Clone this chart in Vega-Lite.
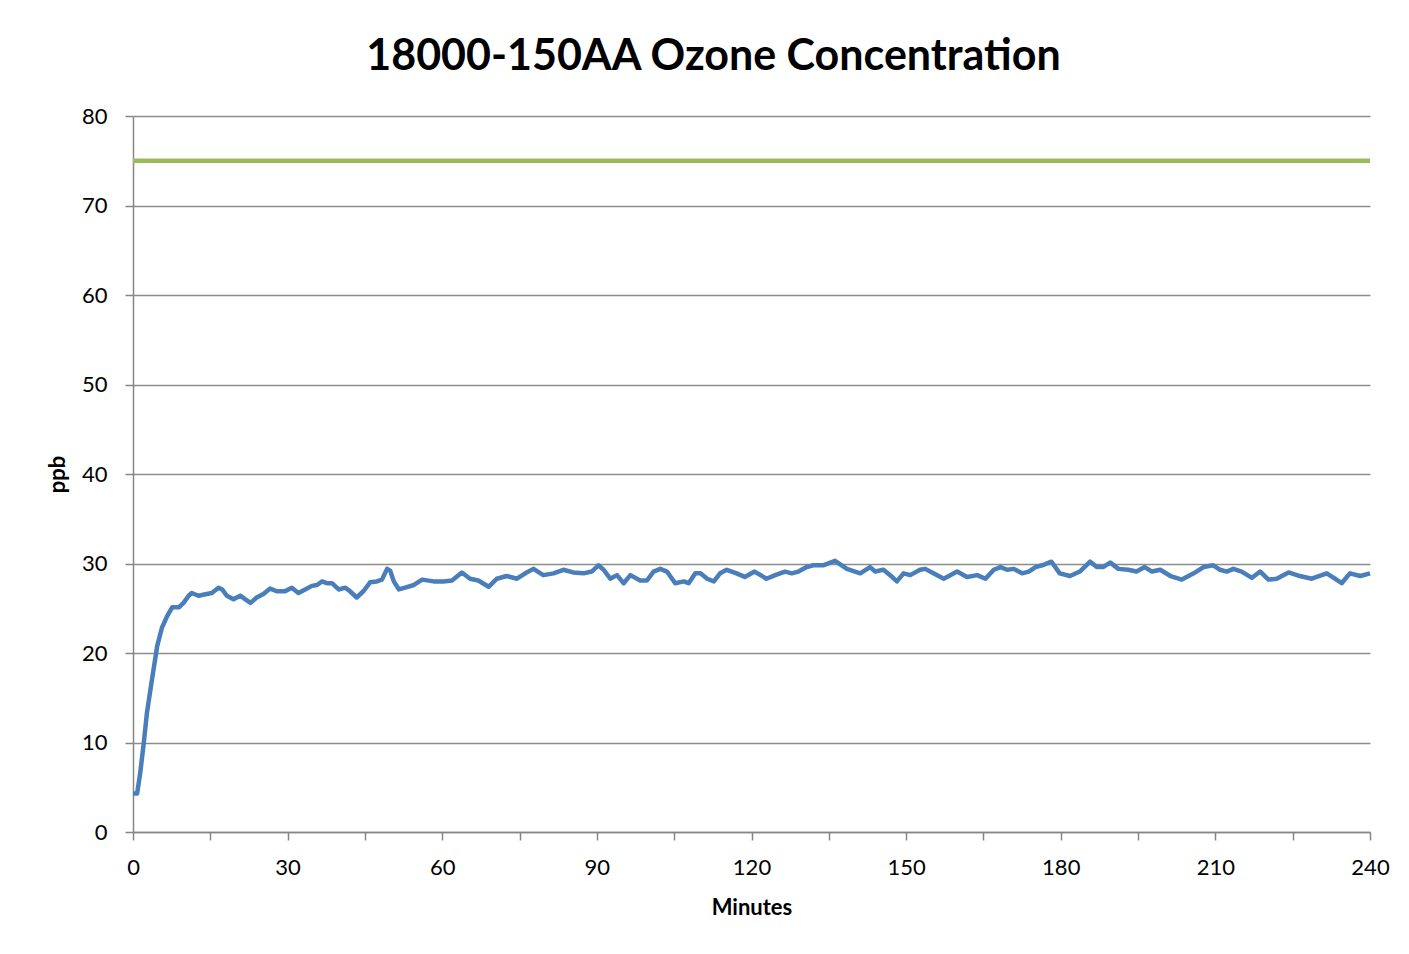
{
  "$schema": "https://vega.github.io/schema/vega-lite/v6.json",
  "width": 1237,
  "height": 716,
  "autosize": "none",
  "padding": {"left": 133, "top": 116, "right": 39, "bottom": 122},
  "background": "white",
  "title": {
    "text": "18000-150AA Ozone Concentration",
    "font": "Lato",
    "fontSize": 43,
    "fontWeight": "bold",
    "color": "#000000",
    "anchor": "middle",
    "dx": -38,
    "offset": 26
  },
  "config": {
    "view": {"stroke": null},
    "axis": {
      "labelFont": "Lato",
      "titleFont": "Lato",
      "labelColor": "#000000",
      "titleColor": "#000000",
      "domainColor": "#868686",
      "tickColor": "#868686",
      "gridColor": "#8c8c8c",
      "domainWidth": 1.5,
      "tickWidth": 1.5,
      "gridWidth": 1.5
    }
  },
  "datasets": {
    "ozone": [
      {"minute": 0, "ppb": 4.3}, {"minute": 0.8, "ppb": 4.3}, {"minute": 1.4, "ppb": 6.6}, {"minute": 2.1, "ppb": 10.0},
      {"minute": 2.7, "ppb": 13.3}, {"minute": 3.7, "ppb": 17.1}, {"minute": 4.7, "ppb": 20.8}, {"minute": 5.6, "ppb": 22.8},
      {"minute": 6.6, "ppb": 24.1}, {"minute": 7.6, "ppb": 25.1}, {"minute": 8.9, "ppb": 25.1}, {"minute": 9.8, "ppb": 25.6},
      {"minute": 10.8, "ppb": 26.4}, {"minute": 11.4, "ppb": 26.7}, {"minute": 12.7, "ppb": 26.4}, {"minute": 14.3, "ppb": 26.6},
      {"minute": 15.3, "ppb": 26.7}, {"minute": 16.6, "ppb": 27.3}, {"minute": 17.3, "ppb": 27.1}, {"minute": 18.2, "ppb": 26.4},
      {"minute": 19.5, "ppb": 26.0}, {"minute": 20.8, "ppb": 26.4}, {"minute": 21.8, "ppb": 26.0}, {"minute": 22.8, "ppb": 25.6},
      {"minute": 24.0, "ppb": 26.2}, {"minute": 25.3, "ppb": 26.6}, {"minute": 26.6, "ppb": 27.2}, {"minute": 27.9, "ppb": 26.9},
      {"minute": 29.5, "ppb": 26.9}, {"minute": 30.8, "ppb": 27.3}, {"minute": 32.1, "ppb": 26.7}, {"minute": 33.4, "ppb": 27.1},
      {"minute": 34.7, "ppb": 27.5}, {"minute": 35.7, "ppb": 27.6}, {"minute": 36.7, "ppb": 28.0}, {"minute": 37.6, "ppb": 27.8},
      {"minute": 38.6, "ppb": 27.8}, {"minute": 39.9, "ppb": 27.1}, {"minute": 41.2, "ppb": 27.3}, {"minute": 42.1, "ppb": 26.9},
      {"minute": 43.4, "ppb": 26.2}, {"minute": 44.7, "ppb": 26.9}, {"minute": 46.0, "ppb": 27.9}, {"minute": 47.3, "ppb": 28.0},
      {"minute": 48.3, "ppb": 28.2}, {"minute": 49.3, "ppb": 29.4}, {"minute": 49.9, "ppb": 29.2}, {"minute": 50.6, "ppb": 28.0},
      {"minute": 51.6, "ppb": 27.1}, {"minute": 52.8, "ppb": 27.3}, {"minute": 54.5, "ppb": 27.6},
      {"minute": 56.1, "ppb": 28.2}, {"minute": 58.3, "ppb": 28.0}, {"minute": 60.2, "ppb": 28.0}, {"minute": 61.9, "ppb": 28.1},
      {"minute": 63.8, "ppb": 29.0}, {"minute": 65.4, "ppb": 28.3}, {"minute": 67.0, "ppb": 28.1}, {"minute": 69.0, "ppb": 27.4},
      {"minute": 70.6, "ppb": 28.3}, {"minute": 72.5, "ppb": 28.6}, {"minute": 74.5, "ppb": 28.3}, {"minute": 76.1, "ppb": 28.9},
      {"minute": 77.7, "ppb": 29.4}, {"minute": 79.6, "ppb": 28.7}, {"minute": 81.6, "ppb": 28.9}, {"minute": 83.5, "ppb": 29.3},
      {"minute": 85.4, "ppb": 29.0}, {"minute": 87.4, "ppb": 28.9}, {"minute": 89.0, "ppb": 29.1}, {"minute": 90.3, "ppb": 29.8},
      {"minute": 91.3, "ppb": 29.3}, {"minute": 92.6, "ppb": 28.3}, {"minute": 93.9, "ppb": 28.7}, {"minute": 95.2, "ppb": 27.8},
      {"minute": 96.5, "ppb": 28.7}, {"minute": 98.4, "ppb": 28.1}, {"minute": 99.7, "ppb": 28.1}, {"minute": 101.0, "ppb": 29.1},
      {"minute": 102.3, "ppb": 29.4}, {"minute": 103.6, "ppb": 29.1}, {"minute": 105.2, "ppb": 27.8}, {"minute": 106.9, "ppb": 28.0},
      {"minute": 107.8, "ppb": 27.8}, {"minute": 109.1, "ppb": 28.9}, {"minute": 110.1, "ppb": 28.9}, {"minute": 111.4, "ppb": 28.3},
      {"minute": 112.7, "ppb": 28.0},
      {"minute": 113.9, "ppb": 28.9}, {"minute": 115.2, "ppb": 29.3}, {"minute": 117.1, "ppb": 28.9}, {"minute": 118.7, "ppb": 28.5},
      {"minute": 120.6, "ppb": 29.1}, {"minute": 122.9, "ppb": 28.3}, {"minute": 124.6, "ppb": 28.7}, {"minute": 126.5, "ppb": 29.1},
      {"minute": 127.8, "ppb": 28.9}, {"minute": 129.1, "ppb": 29.1}, {"minute": 130.7, "ppb": 29.6}, {"minute": 132.0, "ppb": 29.8},
      {"minute": 133.9, "ppb": 29.8}, {"minute": 136.2, "ppb": 30.3}, {"minute": 138.5, "ppb": 29.4}, {"minute": 141.1, "ppb": 28.9},
      {"minute": 143.0, "ppb": 29.6}, {"minute": 144.0, "ppb": 29.1}, {"minute": 145.6, "ppb": 29.3}, {"minute": 146.9, "ppb": 28.7},
      {"minute": 148.2, "ppb": 28.0}, {"minute": 149.5, "ppb": 28.9}, {"minute": 150.8, "ppb": 28.7}, {"minute": 152.7, "ppb": 29.3},
      {"minute": 153.7, "ppb": 29.4}, {"minute": 155.3, "ppb": 28.9}, {"minute": 157.3, "ppb": 28.3}, {"minute": 159.9, "ppb": 29.1},
      {"minute": 161.8, "ppb": 28.5}, {"minute": 163.8, "ppb": 28.7}, {"minute": 165.4, "ppb": 28.3}, {"minute": 167.0, "ppb": 29.3},
      {"minute": 168.3, "ppb": 29.6}, {"minute": 169.6, "ppb": 29.3}, {"minute": 170.9, "ppb": 29.4}, {"minute": 172.5, "ppb": 28.9},
      {"minute": 173.8, "ppb": 29.1}, {"minute": 175.1, "ppb": 29.6},
      {"minute": 176.4, "ppb": 29.8}, {"minute": 178.2, "ppb": 30.2}, {"minute": 179.8, "ppb": 28.9}, {"minute": 181.8, "ppb": 28.6},
      {"minute": 183.7, "ppb": 29.1}, {"minute": 185.7, "ppb": 30.2}, {"minute": 187.0, "ppb": 29.6}, {"minute": 188.2, "ppb": 29.6},
      {"minute": 189.6, "ppb": 30.1}, {"minute": 191.2, "ppb": 29.4}, {"minute": 193.1, "ppb": 29.3}, {"minute": 194.7, "ppb": 29.1},
      {"minute": 196.3, "ppb": 29.6}, {"minute": 197.7, "ppb": 29.1}, {"minute": 199.3, "ppb": 29.3}, {"minute": 201.3, "ppb": 28.6},
      {"minute": 203.5, "ppb": 28.2}, {"minute": 205.8, "ppb": 28.9}, {"minute": 207.7, "ppb": 29.6}, {"minute": 209.6, "ppb": 29.8},
      {"minute": 210.9, "ppb": 29.3}, {"minute": 212.2, "ppb": 29.1}, {"minute": 213.5, "ppb": 29.4}, {"minute": 215.1, "ppb": 29.1},
      {"minute": 217.1, "ppb": 28.4}, {"minute": 218.7, "ppb": 29.1}, {"minute": 220.3, "ppb": 28.2}, {"minute": 221.9, "ppb": 28.3},
      {"minute": 224.2, "ppb": 29.0}, {"minute": 226.4, "ppb": 28.6}, {"minute": 228.7, "ppb": 28.3}, {"minute": 231.6, "ppb": 28.9},
      {"minute": 233.2, "ppb": 28.3}, {"minute": 234.5, "ppb": 27.8}, {"minute": 236.1, "ppb": 28.9}, {"minute": 238.1, "ppb": 28.6},
      {"minute": 240.0, "ppb": 28.9}
    ],
    "limit": [
      {"minute": 0, "ppb": 75},
      {"minute": 240, "ppb": 75}
    ]
  },
  "layer": [
    {
      "data": {"name": "limit"},
      "mark": {"type": "line", "color": "#9bbb59", "strokeWidth": 4.5},
      "encoding": {
        "x": {
          "field": "minute", "type": "quantitative",
          "scale": {"domain": [0, 240], "nice": false},
          "axis": {
            "title": "Minutes",
            "titleFontSize": 22,
            "titleFontWeight": "bold",
            "titlePadding": 19,
            "values": [0, 15, 30, 45, 60, 75, 90, 105, 120, 135, 150, 165, 180, 195, 210, 225, 240],
            "labelExpr": "datum.value % 30 == 0 ? datum.label : ''",
            "labelFlush": false,
            "labelFontSize": 22,
            "labelPadding": 17,
            "tickSize": 8,
            "grid": false
          }
        },
        "y": {
          "field": "ppb", "type": "quantitative",
          "scale": {"domain": [0, 80], "nice": false},
          "axis": {
            "title": "ppb",
            "titleFontSize": 22,
            "titleFontWeight": "bold",
            "titlePadding": 12,
            "values": [0, 10, 20, 30, 40, 50, 60, 70, 80],
            "labelFlush": false,
            "labelFontSize": 22,
            "labelPadding": 18,
            "tickSize": 8,
            "grid": true
          }
        }
      }
    },
    {
      "data": {"name": "ozone"},
      "mark": {"type": "line", "color": "#4a7ebb", "strokeWidth": 4.5, "strokeJoin": "round"},
      "encoding": {
        "x": {"field": "minute", "type": "quantitative"},
        "y": {"field": "ppb", "type": "quantitative"}
      }
    }
  ]
}
